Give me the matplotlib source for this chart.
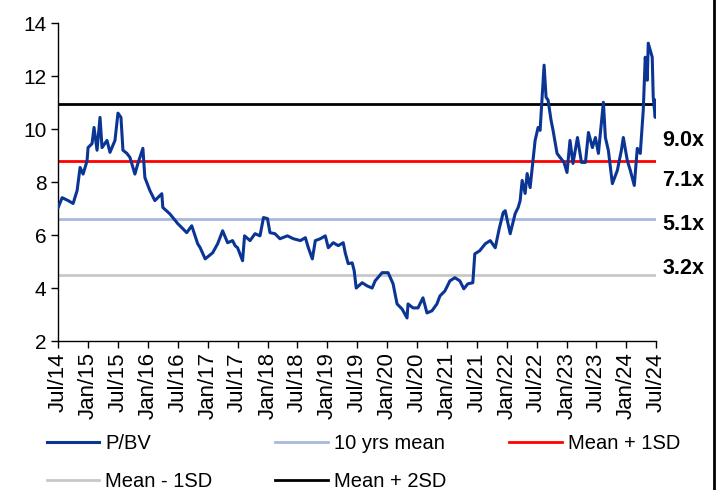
import pandas as pd
import matplotlib.pyplot as plt
from matplotlib import dates
from matplotlib.lines import Line2D

plt.rcParams['font.family'] = ['Liberation Sans', 'DejaVu Sans']

# months since Jul 2014 and P/BV values
months = [0, 0.8, 2, 3, 3.8, 4.4, 5, 5.8, 6, 6.8, 7.2, 7.8, 8.4, 8.8, 9.8, 10.4, 11.4, 12, 12.6, 13,
          13.8, 14.4, 15.4, 16, 17, 17.4, 18.4, 19.4, 20.8, 21, 22.4, 24, 25.8, 26.8, 28, 28.5, 29.5,
          31, 32, 33, 34, 35, 35.5, 36, 37, 37.4, 38.5, 39.5, 40.5, 41.2, 42, 42.5, 43.5, 44.5, 46,
          47.2, 48.6, 49.6, 50.2, 51, 51.6, 52.6, 53.6, 54.2, 55.2, 56.2, 57.2, 57.6, 58.2, 59, 59.4,
          59.8, 61, 62, 63, 63.6, 65, 66.2, 67.2, 68, 69, 70, 70.2, 71.2, 72.2, 73.2, 74, 75, 76,
          76.6, 77.6, 78.6, 79.6, 80.6, 81.4, 82.2, 83.2, 83.6, 84.6, 85.7, 86.7, 87.7, 88.5, 89.3,
          89.7, 90.7, 91.7, 92.3, 92.7, 93.1, 93.7, 94.1, 94.7, 95.7, 96.3, 96.7, 97.5, 97.9, 98.3,
          98.9, 99.3, 100.1, 100.7, 101.5, 102.1, 102.7, 103.3, 104.2, 105, 105.8, 106.4, 107.2,
          107.8, 108.4, 109.4, 109.8, 110.4, 111.2, 112.2, 113, 113.4, 114.2, 114.8, 115.6, 116.2,
          116.8, 117.4, 117.8, 118.2, 118.4, 119.2, 119.4, 119.8, 120]
pbv = [7.04, 7.41, 7.3, 7.19, 7.68, 8.55, 8.3, 8.8, 9.3, 9.45, 10.06, 9.2, 10.44, 9.3, 9.57, 9.12,
       9.57, 10.6, 10.44, 9.2, 9.08, 8.93, 8.3, 8.7, 9.27, 8.17, 7.68, 7.3, 7.56, 7.04, 6.8, 6.43,
       6.09, 6.35, 5.67, 5.52, 5.1, 5.33, 5.67, 6.16, 5.71, 5.79, 5.6, 5.52, 5.03, 5.97, 5.79, 6.05,
       5.97, 6.66, 6.62, 6.09, 6.05, 5.86, 5.97, 5.86, 5.79, 5.9, 5.52, 5.1, 5.79, 5.86, 5.97, 5.52,
       5.71, 5.6, 5.71, 5.33, 4.92, 4.95, 4.65, 4.0, 4.2, 4.08, 4.0, 4.27, 4.58, 4.58, 4.16, 3.4,
       3.21, 2.87, 3.4, 3.25, 3.25, 3.63, 3.06, 3.14, 3.4, 3.7, 3.89, 4.27, 4.39, 4.27, 3.97, 4.16,
       4.2, 5.29, 5.41, 5.67, 5.79, 5.52, 6.24, 6.85, 6.92, 6.05, 6.81, 7.04, 7.3, 8.06, 7.57, 8.32,
       7.79, 9.57, 10.06, 9.95, 12.41, 11.2, 11.09, 10.33, 9.95, 9.08, 8.93, 8.74, 8.36, 9.57, 8.7,
       9.68, 8.74, 8.74, 9.87, 9.3, 9.68, 9.08, 11.01, 9.68, 9.19, 7.94, 8.44, 9.19, 9.68, 8.81,
       8.44, 7.87, 9.27, 9.08, 10.71, 12.71, 11.84, 13.24, 12.71, 11.2, 10.44, 11.09]

mean_10y = 6.62
mean_p1sd = 8.78
mean_m1sd = 4.5
mean_p2sd = 10.93
side_labels = ['9.0x', '7.1x', '5.1x', '3.2x']
side_label_y = [9.57, 8.05, 6.4, 4.72]

start = pd.Timestamp('2014-07-01')
end = pd.Timestamp('2024-07-01')
x_data = [start + pd.Timedelta(days=m * 30.44) for m in months]

fig = plt.figure(figsize=(7.18, 4.9), dpi=100)
ax = fig.add_axes([0.081, 0.304, 0.833, 0.649])

l1, = ax.plot(x_data, pbv, color='#0B3594', lw=2.2, label='P/BV', zorder=5)
l2 = ax.axhline(mean_10y, color='#A9B8DE', lw=2, label='10 yrs mean')
l3 = ax.axhline(mean_p1sd, color='#FF0000', lw=2, label='Mean + 1SD')
l4 = ax.axhline(mean_m1sd, color='#C8C8C8', lw=2, label='Mean - 1SD')
l5 = ax.axhline(mean_p2sd, color='#000000', lw=2, label='Mean + 2SD')

ax.set_xlim(start, end)
ax.set_ylim(2, 14)
ax.set_yticks(range(2, 15, 2))
ax.xaxis.set_major_locator(dates.MonthLocator(bymonth=[1, 7]))
ax.xaxis.set_major_formatter(dates.DateFormatter('%b/%y'))
ax.tick_params(axis='y', labelsize=15, length=5, width=1, color='black')
ax.tick_params(axis='x', labelsize=16, length=5, width=1, color='black', pad=3,
               labelrotation=90)
for s in ['top', 'right']:
    ax.spines[s].set_visible(False)
for s in ['left', 'bottom']:
    ax.spines[s].set_linewidth(1)

for lab, yv in zip(side_labels, side_label_y):
    ax.text(1.01, yv, lab, transform=ax.get_yaxis_transform(), fontsize=15.5,
            fontweight='bold', va='center', ha='left')

fig.legend([l1, l4, l2, l5, l3], ['P/BV', 'Mean - 1SD', '10 yrs mean', 'Mean + 2SD', 'Mean + 1SD'],
           ncol=3, mode='expand', loc='upper left', bbox_to_anchor=(0.065, 0.0, 0.882, 0.114),
           frameon=False, fontsize=14.5, handlelength=2.6, handletextpad=0.3,
           labelspacing=0.95, borderpad=0, borderaxespad=0)

fig.add_artist(Line2D([0.994, 0.994], [0, 1], color='black', lw=2, transform=fig.transFigure))

fig.savefig('out.png', dpi=100)
